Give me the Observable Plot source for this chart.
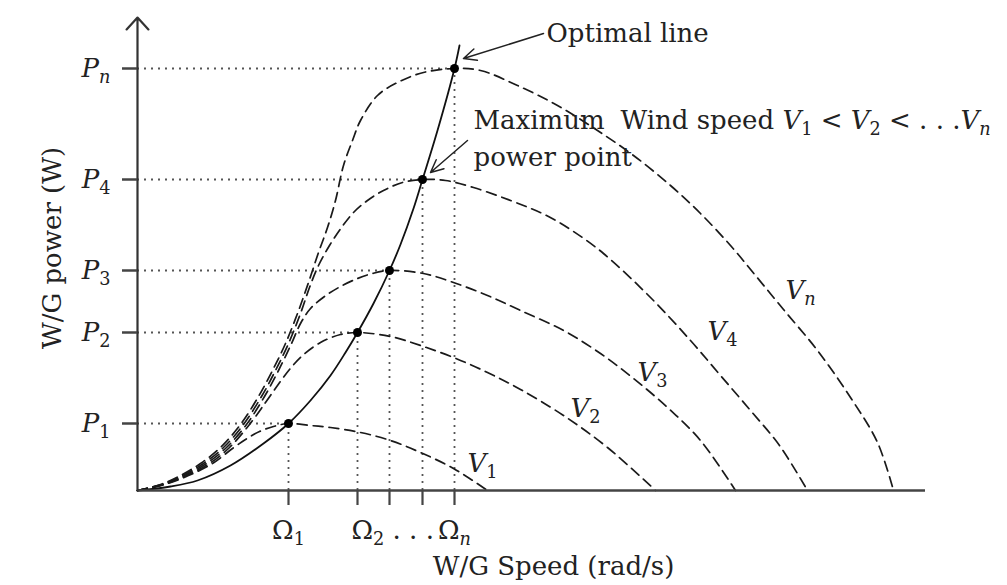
<!DOCTYPE html>
<html><head><meta charset="utf-8">
<script src="https://cdn.jsdelivr.net/npm/d3@7"></script>
<script src="https://cdn.jsdelivr.net/npm/@observablehq/plot@0.6"></script>
<style>html,body{margin:0;padding:0;background:#fff;}</style>
</head><body><div id="chart"></div>
<script>
// Tick values (peak positions) and labels
const omega = [151, 220, 252, 285, 317];
const power = [67, 158, 220, 311, 422];
const omegaLabels = ["Ω_1", "", "", "", "Ω_n"];
const omegaMidLabel = "Ω_2 . . .";
const powerLabels = ["P_1", "P_2", "P_3", "P_4", "P_n"];
const xMax = 788, yMax = 473;

// Power curves for each wind speed
const v1Pts = [[0,0],[27,6],[51,15],[75,27],[95,42],[108,51],[122,59],[136,64],[151,67],
  [173,65],[193,63],[223,58],[253,50],[283,38],[316,22],[350,0]];
const v2Pts = [[0,0],[26,6],[49,15],[72,27],[92,43],[112,66],[128,88],[140,105],[152,121],[165,135],[183,148],[203,156],[220,158],
  [253,154],[283,145],[316,133],[350,118],[383,101],[426,75],[470,43],[518,0]];
const v3Pts = [[0,0],[25,6],[47,15],[69,27],[89,43],[109,66],[127,94],[141,120],[154,147],[163,167],[173,182],[187,194],[203,204],[220,212],[235,217],[252,220],
  [286,217],[316,208],[350,195],[383,180],[426,160],[463,137],[496,112],[530,83],[563,50],[598,0]];
const v4Pts = [[0,0],[24,6],[45,15],[66,27],[86,43],[106,66],[124,94],[138,120],[151,147],[163,177],[172,203],[181,225],[192,245],[204,263],[216,278],[230,290],[246,300],[265,308],[285,311],
  [308,310],[336,303],[386,285],[411,274],[436,259],[466,237],[513,193],[553,150],[583,115],[613,80],[642,45],[670,0]];
const vnPts = [[0,0],[23,6],[43,15],[63,27],[83,43],[103,66],[121,94],[135,120],[148,147],[160,177],[171,208],[181,238],[190,263],[198,290],[206,325],[215,350],[223,370],[240,395],[260,408],[286,418],[317,422],
  [343,420],[380,405],[420,385],[460,360],[496,335],[533,305],[563,277],[593,245],[618,215],[646,181],[680,140],[713,93],[740,48],[756,0]];
const optimalPts = [[0,0],[33,4],[60,10],[93,25],[126,47],[151,67],[173,90],[193,115],[208,138],[220,158],[236,187],[252,220],[263,246],[276,282],[285,311],[300,360],[317,422],[322,445]];

const curveNames = ["V_1", "V_2", "V_3", "V_4", "V_n"];
const curveLabelX = [345, 448, 515, 585, 663];
const curveLabelY = [27, 82, 118, 159, 200];

// Annotations
const noteTexts = ["Optimal line", "Maximum", "power point", "Wind speed V_1 < V_2 < . . .V_n"];
const noteX = [406, 333, 333, 480];
const noteY = [457, 370, 333, 370];
const arrowX1 = [406, 330], arrowY1 = [457, 350];
const arrowX2 = [326, 293], arrowY2 = [432, 318];

const xTitle = "W/G Speed (rad/s)";
const yTitle = "W/G power (W)";

const allCurves = [v1Pts, v2Pts, v3Pts, v4Pts, vnPts];
const lineData = allCurves.flatMap((pts, i) => pts.map(([x, y]) => ({curve: curveNames[i], x, y})));
const optData = optimalPts.map(([x, y]) => ({x, y}));
const peaks = omega.map((o, i) => ({x: o, y: power[i]}));
const curveLabels = curveNames.map((t, i) => ({t, x: curveLabelX[i], y: curveLabelY[i]}));
const notes = noteTexts.map((t, i) => ({t, x: noteX[i], y: noteY[i]}));
const arrows = arrowX1.map((_, i) => ({x1: arrowX1[i], y1: arrowY1[i], x2: arrowX2[i], y2: arrowY2[i]}));

const dotted = {stroke: "#555", strokeWidth: 1.8, strokeDasharray: "2,5"};

const chart = Plot.plot({
  width: 1007, height: 585,
  marginLeft: 137, marginRight: 82, marginTop: 17, marginBottom: 95,
  x: {domain: [0, xMax]},
  y: {domain: [0, yMax]},
  style: {fontFamily: "'DejaVu Serif', serif", fontSize: "26px", color: "#222", background: "#fff", overflow: "visible"},
  marks: [
    Plot.ruleY(peaks, {y: "y", x1: 0, x2: "x", ...dotted}),
    Plot.ruleX(peaks, {x: "x", y1: 0, y2: "y", ...dotted}),
    Plot.line(lineData, {x: "x", y: "y", z: "curve", curve: "catmull-rom", stroke: "#1a1a1a", strokeWidth: 1.7, strokeDasharray: "10,6"}),
    Plot.line(optData, {x: "x", y: "y", curve: "catmull-rom", stroke: "#111", strokeWidth: 1.8}),
    Plot.ruleY([0], {stroke: "#444", strokeWidth: 2.5}),
    Plot.arrow([0], {x1: 0, y1: 0, x2: 0, y2: yMax, stroke: "#333", strokeWidth: 2.2, headLength: 11, headAngle: 85}),
    Plot.axisY(power, {tickSize: 15, tickPadding: 12, tickFormat: d => powerLabels[power.indexOf(d)], stroke: "#444", strokeWidth: 2.5, fill: "#222", label: null}),
    Plot.axisX(omega, {tickSize: 15, tickPadding: 15, tickFormat: d => omegaLabels[omega.indexOf(d)], stroke: "#444", strokeWidth: 2.2, fill: "#222", label: null}),
    Plot.text([omegaMidLabel], {x: omega[1], y: 0, textAnchor: "start", lineAnchor: "top", dx: -6, dy: 30, fill: "#222"}),
    Plot.dot(peaks, {x: "x", y: "y", r: 4.5, fill: "#000"}),
    Plot.arrow(arrows, {x1: "x1", y1: "y1", x2: "x2", y2: "y2", stroke: "#222", strokeWidth: 1.5, headLength: 14, headAngle: 50}),
    Plot.text(notes, {x: "x", y: "y", text: "t", textAnchor: "start", dx: 3, fill: "#222"}),
    Plot.text(curveLabels, {x: "x", y: "y", text: "t", textAnchor: "middle", fill: "#222"}),
    Plot.text([xTitle], {frameAnchor: "bottom", textAnchor: "middle", lineAnchor: "middle", dx: 22, dy: 76, fill: "#222"}),
    Plot.text([yTitle], {frameAnchor: "left", rotate: -90, textAnchor: "middle", lineAnchor: "middle", dx: -85, dy: -6, fill: "#222"})
  ]
});

function richify(root) {
  const NS = "http://www.w3.org/2000/svg";
  root.querySelectorAll("text").forEach(t => {
    const s = t.textContent;
    if (!s.includes("_")) return;
    while (t.firstChild) t.removeChild(t.firstChild);
    const re = /([A-Za-zΩ])_([0-9a-z])/g;
    let last = 0, m, pendingUp = false;
    const add = (str, italic, sub) => {
      const ts = document.createElementNS(NS, "tspan");
      ts.textContent = str;
      if (italic) ts.setAttribute("font-style", "italic");
      if (sub) { ts.style.fontSize = "0.68em"; ts.setAttribute("dy", "6"); }
      else if (pendingUp) { ts.setAttribute("dy", "-6"); }
      pendingUp = sub;
      t.appendChild(ts);
    };
    while ((m = re.exec(s))) {
      if (m.index > last) add(s.slice(last, m.index), false, false);
      add(m[1], m[1] !== "Ω", false);
      add(m[2], /[a-z]/.test(m[2]), true);
      last = re.lastIndex;
    }
    if (last < s.length) add(s.slice(last), false, false);
  });
}
richify(chart);
document.getElementById("chart").appendChild(chart);
</script>
</body></html>
